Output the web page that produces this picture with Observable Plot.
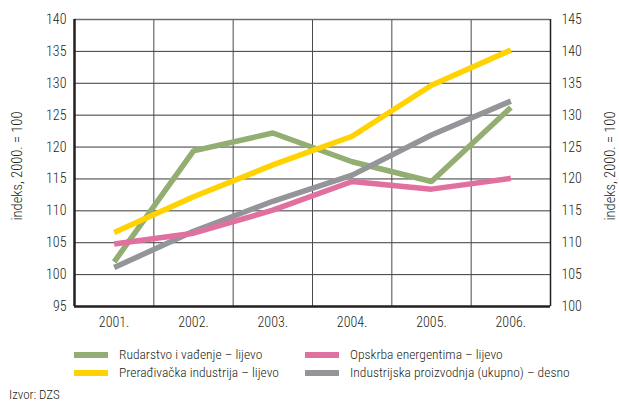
<!DOCTYPE html>
<html>
<head>
<meta charset="utf-8">
<script src="https://cdn.jsdelivr.net/npm/d3@7"></script>
<script src="https://cdn.jsdelivr.net/npm/@observablehq/plot@0.6"></script>
<style>
  body { margin: 0; background: #fff; }
  #wrap { position: relative; width: 619px; height: 403px; overflow: hidden;
    font-family: "Liberation Sans Narrow", "Roboto Condensed", "DejaVu Sans Condensed", "DejaVu Sans", sans-serif; font-stretch: condensed; font-weight: 300; color: #231f20; }
  #wrap svg, #wrap svg text { font-stretch: condensed; font-weight: 300; }
  #chart svg { display: block; }
  .leg { position: absolute; font-size: 13.5px; line-height: 14px; white-space: nowrap; }
  .sw { position: absolute; width: 34px; height: 6px; }
  #src { position: absolute; left: 9px; top: 388px; font-size: 13px; line-height: 14px; }
</style>
</head>
<body>
<div id="wrap">
  <div id="chart"></div>
  <div id="legend"></div>
  <div id="src">Izvor: DZS</div>
</div>
<script>
const years = [2001, 2002, 2003, 2004, 2005, 2006];
const rudarstvo    = [102.0, 119.4, 122.2, 117.7, 114.6, 126.2];
const preradivacka = [106.6, 112.2, 117.2, 121.7, 129.7, 135.2];
const opskrba      = [104.8, 106.5, 110.1, 114.6, 113.4, 115.1];
const ukupno       = [106.1, 111.8, 116.5, 120.6, 126.9, 132.2]; // right axis
const leftTicks  = [95, 100, 105, 110, 115, 120, 125, 130, 135, 140];
const rightTicks = [100, 105, 110, 115, 120, 125, 130, 135, 140, 145];
const rightOffset = rightTicks[0] - leftTicks[0];
const axisLabel = "indeks, 2000. = 100";
const seriesNames = [
  "Rudarstvo i vađenje – lijevo",
  "Prerađivačka industrija – lijevo",
  "Opskrba energentima – lijevo",
  "Industrijska proizvodnja (ukupno) – desno"
];
const seriesColors = ["#93ae72", "#ffd200", "#e0709f", "#949599"];
const seriesValues = [rudarstvo, preradivacka, opskrba, ukupno];
const seriesAxis = ["left", "left", "left", "right"];
const drawOrder = [0, 3, 2, 1];

const rows = [];
drawOrder.forEach(i => {
  years.forEach((yr, j) => rows.push({
    series: seriesNames[i], year: yr, value: seriesValues[i][j],
    plotValue: seriesAxis[i] === "right" ? seriesValues[i][j] - rightOffset : seriesValues[i][j]
  }));
});

const xMin = years[0] - 0.5, xMax = years[years.length - 1] + 0.5;
const innerV = years.slice(0, -1).map(y => y + 0.5);
const innerH = leftTicks.slice(1, -1);
const dark = "#231f20";
const fontStack = '"Liberation Sans Narrow", "Roboto Condensed", "DejaVu Sans Condensed", "DejaVu Sans", sans-serif';

const chart = Plot.plot({
  width: 619, height: 340,
  marginTop: 19, marginLeft: 74, marginRight: 69, marginBottom: 34,
  style: { fontFamily: fontStack, fontSize: "14px", color: dark, background: "#fff" },
  x: { domain: [xMin, xMax] },
  y: { domain: [leftTicks[0], leftTicks[leftTicks.length - 1]] },
  color: { domain: seriesNames, range: seriesColors },
  marks: [
    Plot.ruleY(innerH, { stroke: "#3a3a3a", strokeWidth: 1 }),
    Plot.ruleX(innerV, { stroke: "#4a4a4a", strokeWidth: 1 }),
    Plot.ruleY([leftTicks[leftTicks.length - 1]], { stroke: "#6d6d6d", strokeWidth: 1.5 }),
    Plot.lineY(rows, { x: "year", y: "plotValue", z: "series", stroke: "series", strokeWidth: 5.5, strokeLinejoin: "miter", strokeLinecap: "butt" }),
    Plot.ruleX([xMax], { stroke: dark, strokeWidth: 1.5 }),
    Plot.ruleX([xMin], { stroke: dark, strokeWidth: 2.5 }),
    Plot.ruleY([leftTicks[0]], { stroke: dark, strokeWidth: 2.5 }),
    Plot.axisY({ anchor: "left", ticks: leftTicks, tickSize: 0, tickPadding: 8, label: null }),
    Plot.axisY({ anchor: "right", ticks: rightTicks.map(v => v - rightOffset), tickFormat: v => String(v + rightOffset), tickSize: 0, tickPadding: 11, label: null }),
    Plot.axisX({ ticks: years, tickFormat: d => d + ".", tickSize: 0, tickPadding: 11, label: null }),
    Plot.text([axisLabel], { frameAnchor: "left", dx: -57, dy: 3, rotate: -90, textAnchor: "middle", lineAnchor: "middle", fontSize: 14.5 }),
    Plot.text([axisLabel], { frameAnchor: "right", dx: 60, dy: 3, rotate: -90, textAnchor: "middle", lineAnchor: "middle", fontSize: 14.5 })
  ]
});
document.getElementById("chart").appendChild(chart);

const legend = document.getElementById("legend");
const legPos = [[74, 355], [74, 373], [305, 355], [305, 373]];
seriesNames.forEach((name, i) => {
  const [lx, ly] = legPos[i];
  const sw = document.createElement("div");
  sw.className = "sw"; sw.style.left = lx + "px"; sw.style.top = (ly - 3) + "px"; sw.style.background = seriesColors[i];
  const t = document.createElement("div");
  t.className = "leg"; t.style.left = (lx + 45) + "px"; t.style.top = (ly - 8) + "px"; t.textContent = name;
  legend.appendChild(sw); legend.appendChild(t);
});
</script>
</body>
</html>
